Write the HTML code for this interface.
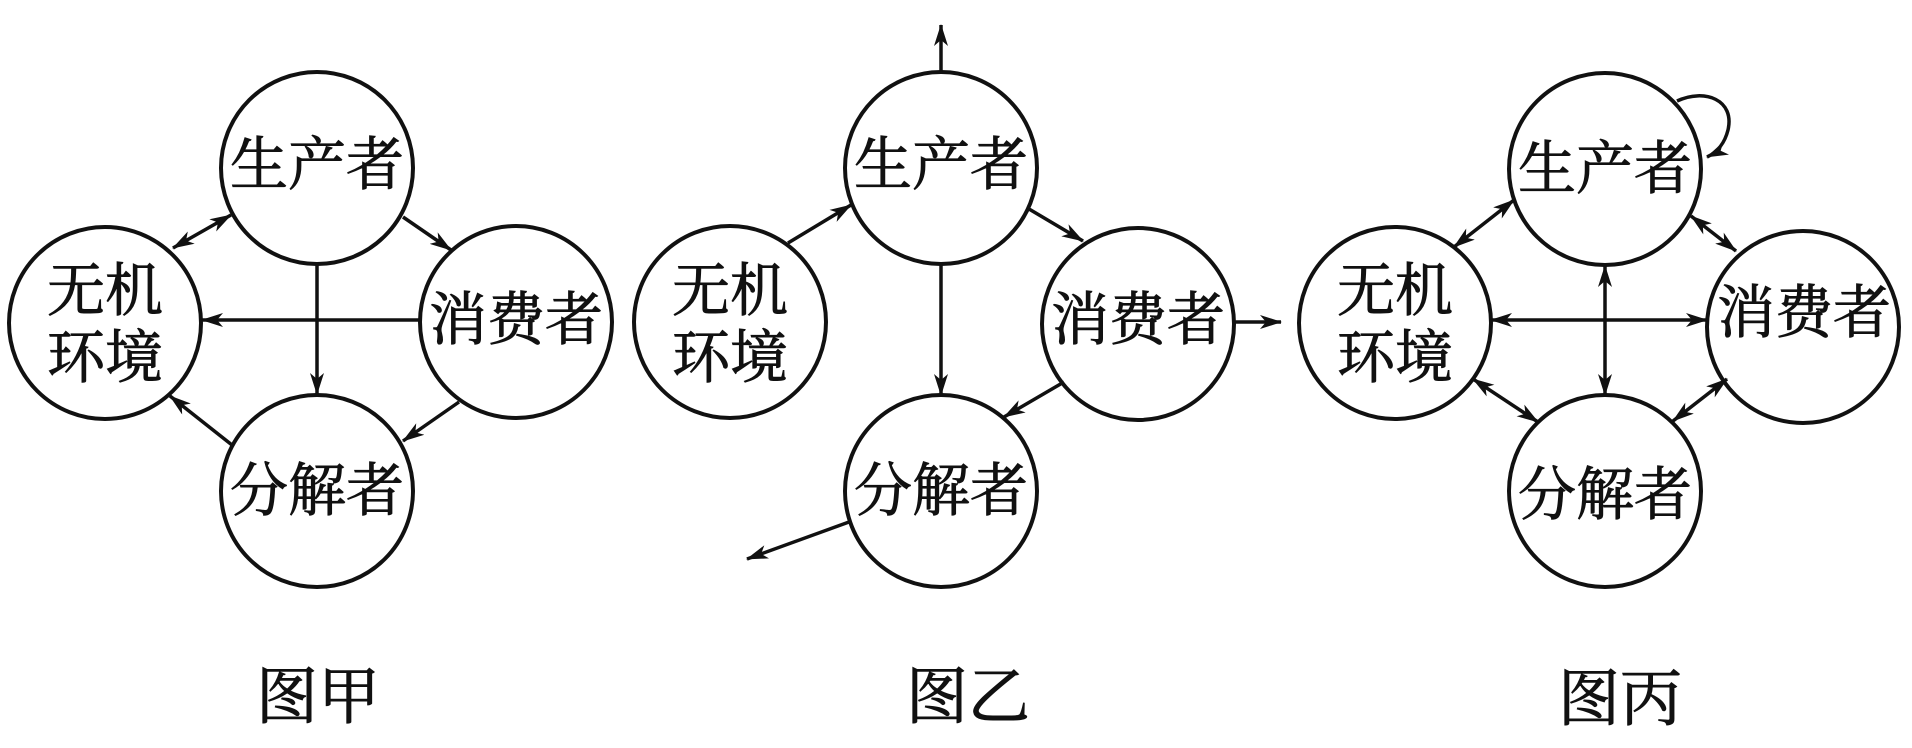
<!DOCTYPE html>
<html><head><meta charset="utf-8"><style>
html,body{margin:0;padding:0;background:#fff;}
svg{display:block}
text{font-family:"Liberation Serif","Noto Serif CJK SC",serif;fill:#111;stroke:#111;stroke-width:0.9;}
</style></head><body>
<svg width="1912" height="748" viewBox="0 0 1912 748" xmlns="http://www.w3.org/2000/svg">
<defs>
<marker id="a" viewBox="0 0 22 14" refX="21" refY="7" markerWidth="22" markerHeight="14" markerUnits="userSpaceOnUse" orient="auto-start-reverse">
<path d="M0,0 L22,7 L0,14 L6,7 Z" fill="#111"/>
</marker>
</defs>
<g fill="none" stroke="#111" stroke-width="4">
<circle cx="317" cy="168" r="96"/>
<circle cx="105" cy="323" r="96"/>
<circle cx="516" cy="322" r="96"/>
<circle cx="317" cy="491" r="96"/>
<circle cx="941" cy="168" r="96"/>
<circle cx="730" cy="322" r="96"/>
<circle cx="1138" cy="324" r="96"/>
<circle cx="941" cy="491" r="96"/>
<circle cx="1605" cy="169" r="96"/>
<circle cx="1395" cy="323" r="96"/>
<circle cx="1803" cy="327" r="96"/>
<circle cx="1605" cy="491" r="96"/>
</g>
<g fill="none" stroke="#111" stroke-width="3.5">
<line x1="317" y1="265" x2="317" y2="394" marker-end="url(#a)"/>
<line x1="420" y1="320" x2="202" y2="320" marker-end="url(#a)"/>
<line x1="173" y1="248" x2="231" y2="215" marker-start="url(#a)" marker-end="url(#a)"/>
<line x1="403" y1="217" x2="451" y2="250" marker-end="url(#a)"/>
<line x1="459" y1="402" x2="403" y2="441" marker-end="url(#a)"/>
<line x1="232" y1="445" x2="170" y2="396" marker-end="url(#a)"/>
<line x1="941" y1="72" x2="941" y2="25" marker-end="url(#a)"/>
<line x1="788" y1="243" x2="851" y2="205" marker-end="url(#a)"/>
<line x1="1029" y1="209" x2="1083" y2="241" marker-end="url(#a)"/>
<line x1="941" y1="264" x2="941" y2="395" marker-end="url(#a)"/>
<line x1="1235" y1="322" x2="1281" y2="322" marker-end="url(#a)"/>
<line x1="1064" y1="382" x2="1004" y2="417" marker-end="url(#a)"/>
<line x1="849" y1="522" x2="747" y2="559" marker-end="url(#a)"/>
<line x1="1605" y1="266" x2="1605" y2="395" marker-start="url(#a)" marker-end="url(#a)"/>
<line x1="1491" y1="320" x2="1707" y2="320" marker-start="url(#a)" marker-end="url(#a)"/>
<line x1="1454" y1="247" x2="1514" y2="200" marker-start="url(#a)" marker-end="url(#a)"/>
<line x1="1691" y1="216" x2="1736" y2="251" marker-start="url(#a)" marker-end="url(#a)"/>
<line x1="1473" y1="379" x2="1538" y2="422" marker-start="url(#a)" marker-end="url(#a)"/>
<line x1="1727" y1="379" x2="1673" y2="421" marker-start="url(#a)" marker-end="url(#a)"/>
<path d="M1677,101 C1705,88 1735,100 1728,130 C1725,142 1718,152 1707,157" marker-end="url(#a)"/>
</g>
<g font-size="58" text-anchor="middle" dominant-baseline="central">
<text x="317" y="165">生产者</text>
<text x="105" y="291">无机</text>
<text x="105" y="358">环境</text>
<text x="516" y="320">消费者</text>
<text x="317" y="491">分解者</text>
<text x="941" y="165">生产者</text>
<text x="730" y="291">无机</text>
<text x="730" y="358">环境</text>
<text x="1138" y="320">消费者</text>
<text x="941" y="491">分解者</text>
<text x="1605" y="169">生产者</text>
<text x="1395" y="291">无机</text>
<text x="1395" y="358">环境</text>
<text x="1804" y="313">消费者</text>
<text x="1605" y="495">分解者</text>
</g>
<g font-size="62" text-anchor="middle" dominant-baseline="central">
<text x="318" y="698">图甲</text>
<text x="968" y="698">图乙</text>
<text x="1620" y="700">图丙</text>
</g>
</svg>
</body></html>
